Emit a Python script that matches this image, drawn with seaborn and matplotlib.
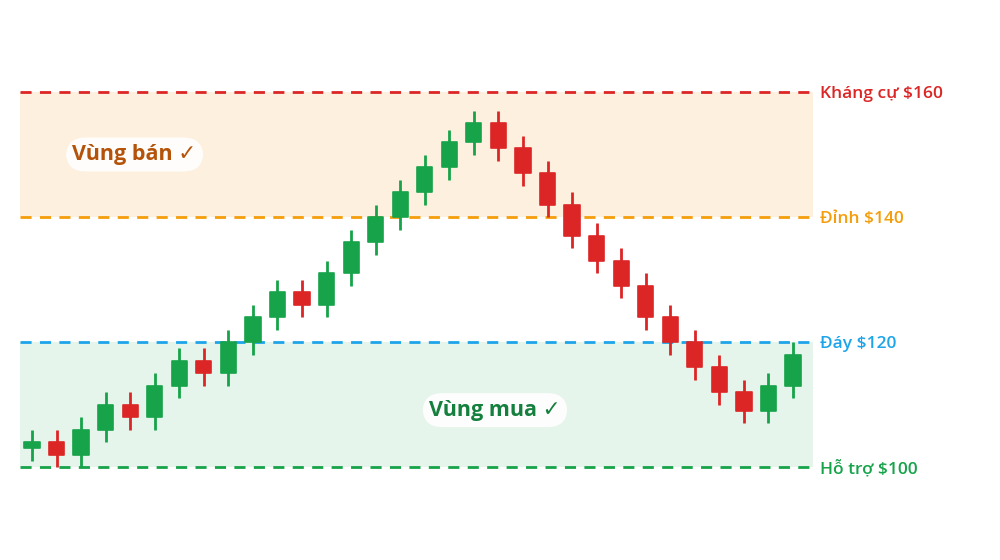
import matplotlib
matplotlib.use("Agg")
import matplotlib.pyplot as plt
import seaborn as sns
import pandas as pd
import numpy as np

# ---- data ----
opens  = [103, 104, 102, 106, 110, 108, 113, 117, 115, 120, 124, 128, 126, 131, 136, 140,
          144, 148, 152, 155, 151, 147, 142, 137, 133, 129, 124, 120, 116, 112, 109, 113]
closes = [104, 102, 106, 110, 108, 113, 117, 115, 120, 124, 128, 126, 131, 136, 140, 144,
          148, 152, 155, 151, 147, 142, 137, 133, 129, 124, 120, 116, 112, 109, 113, 118]
highs  = [106, 106, 108, 112, 112, 115, 119, 119, 122, 126, 130, 130, 133, 138, 142, 146,
          150, 154, 157, 157, 153, 149, 144, 139, 135, 131, 126, 122, 118, 114, 115, 120]
lows   = [101, 100, 100, 104, 106, 106, 111, 113, 113, 118, 122, 124, 124, 129, 134, 138,
          142, 146, 150, 149, 145, 140, 135, 131, 127, 122, 118, 114, 110, 107, 107, 111]

level_values = [160, 140, 120, 100]
level_labels = ["Kháng cự $160", "Đỉnh $140", "Đáy $120", "Hỗ trợ $100"]
level_colors = ["#dc2626", "#f59e0b", "#1ea5e9", "#16a34a"]

zone_labels = ["Vùng bán ✓", "Vùng mua ✓"]
zone_ranges = [(140, 160), (100, 120)]
zone_fill = ["#fdf0de", "#e6f5eb"]
zone_text_colors = ["#b45309", "#15803d"]
zone_text_pos = [(4.18, 150.0), (18.86, 109.1)]

UP = "#16a34a"
DOWN = "#dc2626"

df = pd.DataFrame({"i": np.arange(len(opens)), "open": opens, "close": closes,
                   "high": highs, "low": lows})
df["up"] = df["close"] >= df["open"]
df["color"] = np.where(df["up"], UP, DOWN)
df["bottom"] = df[["open", "close"]].min(axis=1)
df["height"] = (df["close"] - df["open"]).abs()

sns.set_theme(style="white")
plt.rcParams["font.family"] = ["Open Sans", "DejaVu Sans"]

fig = plt.figure(figsize=(10, 5.6), dpi=100)
ax = fig.add_axes([20 / 1000, 40 / 560, 793 / 1000, 480 / 560])

# zones
for (lo, hi), col in zip(zone_ranges, zone_fill):
    ax.axhspan(lo, hi, color=col, zorder=0, lw=0)

# level lines
for v, col in zip(level_values, level_colors):
    ax.axhline(v, color=col, lw=2, ls=(0, (4, 3)), zorder=1)

# wicks
for _, r in df.iterrows():
    ax.plot([r["i"], r["i"]], [r["low"], r["high"]], color=r["color"], lw=2,
            solid_capstyle="butt", zorder=2)

# bodies
ax.bar(df["i"], df["height"], bottom=df["bottom"], width=0.62,
       color=df["color"], edgecolor=df["color"], linewidth=1.2,
       joinstyle="round", zorder=3)

ax.set_xlim(-0.489, 31.815)
ax.set_ylim(91.52, 168.32)
ax.axis("off")

# right-side labels
for v, lab, col in zip(level_values, level_labels, level_colors):
    ax.text(1.0 + 7 / 793, v, lab, transform=ax.get_yaxis_transform(),
            color=col, fontsize=12.5, fontweight="semibold", va="center_baseline",
            ha="left", clip_on=False)

# zone labels
for lab, (x, y), col in zip(zone_labels, zone_text_pos, zone_text_colors):
    ax.text(x, y, lab, color=col, fontsize=15.5, fontweight="bold", ha="center",
            va="center", zorder=5,
            bbox=dict(boxstyle="round,pad=0.3,rounding_size=0.9", fc="white",
                      ec="none", alpha=0.9))

fig.savefig("out.png", dpi=100)
